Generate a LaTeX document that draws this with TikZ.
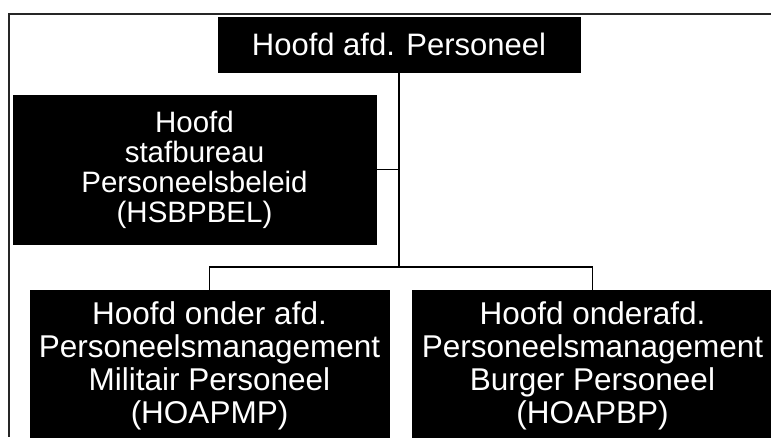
\documentclass[tikz,border=0pt]{standalone}
\usepackage{fontspec}
\setmainfont{Liberation Sans}
\begin{document}
\begin{tikzpicture}[x=1pt,y=-1pt,
  orgbox/.style={draw=black,fill=black,text=white,rectangle,align=center,inner sep=0pt},
  link/.style={draw=black,line width=1.6pt},
  frameline/.style={draw=black!85,line width=2pt}]
\useasboundingbox (0,0) rectangle (771,437);

% outer frame (top and left edges)
\draw[frameline] (771,14) -- (9,14) -- (9,437);

% boxes
\node[orgbox,minimum width=362pt,minimum height=55pt,
      font=\fontsize{31}{31}\selectfont] (top) at (399,44.5) {Hoofd afd. Personeel};
\node[orgbox,minimum width=363pt,minimum height=149pt,
      font=\fontsize{29.5}{30}\selectfont] (staf) at (194.5,169.5)
  {Hoofd\\stafbureau\\Personeelsbeleid\\(HSBPBEL)};
\node[orgbox,minimum width=359pt,minimum height=152pt,
      font=\fontsize{31.5}{33}\selectfont] (mil) at (209.5,366)
  {Hoofd onder afd.\\Personeelsmanagement\\Militair Personeel\\(HOAPMP)};
\node[orgbox,minimum width=360pt,minimum height=152pt,
      font=\fontsize{31.5}{33}\selectfont] (burg) at (592.5,366)
  {Hoofd onderafd.\\Personeelsmanagement\\Burger Personeel\\(HOAPBP)};

% connectors
\coordinate (bus) at (399,267);
\draw[link] (top.south) -- (bus);
\draw[link] (staf.east) -- (staf.east -| top.south);
\draw[link] (mil.north) |- (bus) -| (burg.north);
\end{tikzpicture}
\end{document}
